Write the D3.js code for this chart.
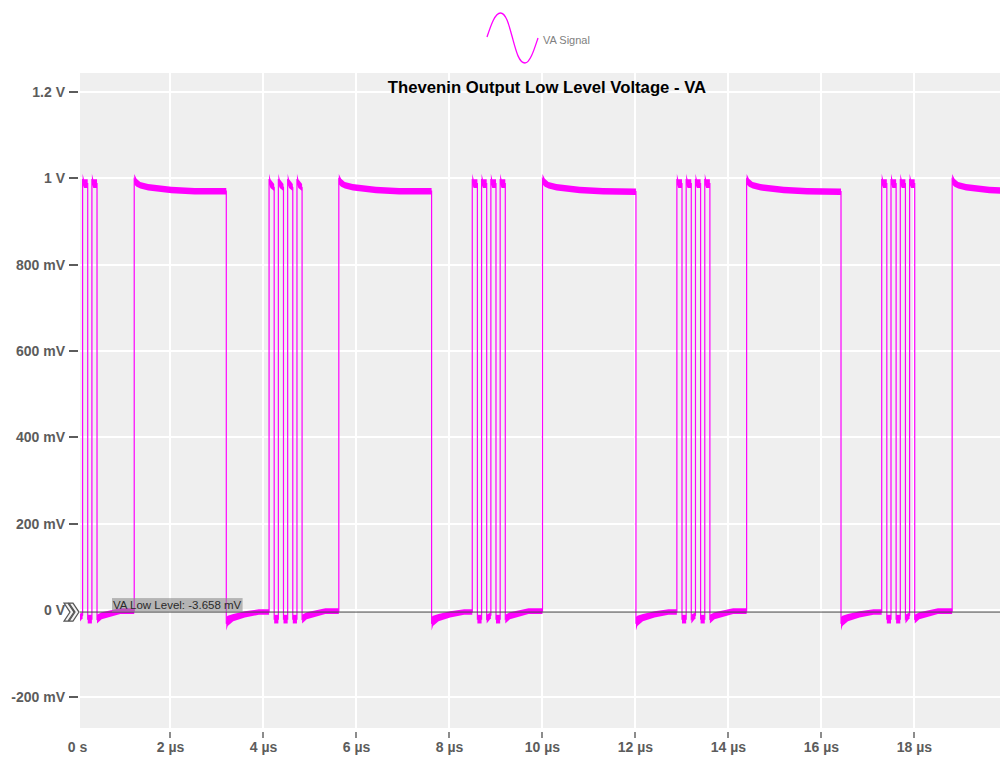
<!DOCTYPE html>
<html>
<head>
<meta charset="utf-8">
<script src="https://cdn.jsdelivr.net/npm/d3@7"></script>
<style>
  body { margin: 0; background: #fff; }
  svg { display: block; font-family: "Liberation Sans", Arial, sans-serif; }
</style>
</head>
<body>
<svg id="chart" width="1000" height="757"></svg>
<script>
// ---- axis ticks ----
const timeTicks = [0, 2, 4, 6, 8, 10, 12, 14, 16, 18];               // µs
const timeTickLabels = ["0 s", "2 µs", "4 µs", "6 µs", "8 µs", "10 µs", "12 µs", "14 µs", "16 µs", "18 µs"];
const voltTicks = [-0.2, 0, 0.2, 0.4, 0.6, 0.8, 1.0, 1.2];            // V
const voltTickLabels = ["-200 mV", "0 V", "200 mV", "400 mV", "600 mV", "800 mV", "1 V", "1.2 V"];

// ---- VA signal edges (µs) ----
const plateauRise = [1.22, 5.62, 10.0, 14.39, 18.81];   // start of each long high level
const plateauFall = [3.2, 7.615, 12.01, 16.42, 20.78];  // end of each long high level
const burstRise   = [-0.29, 4.12, 8.49, 12.89, 17.295]; // first edge of each 4-pulse burst
const pulseOffsets = [0, 0.2, 0.4, 0.6];                // pulse starts inside a burst
const pulseWidth = 0.11;

// ---- level envelopes: [µs after edge, lower V, upper V] ----
const plateauHighShape = [[0, 0.985, 1.009], [0.05, 0.980, 0.998], [0.13, 0.976, 0.991], [0.3, 0.971, 0.986],
                          [0.8, 0.965, 0.980], [1.3, 0.962, 0.977], [2.0, 0.961, 0.976]];
const pulseHighShape = [[0, 0.985, 1.010], [0.03, 0.977, 0.997], [0.11, 0.970, 0.986]];
const lowAfterPlateauShape = [[0, -0.046, -0.015], [0.03, -0.036, -0.012], [0.15, -0.025, -0.008],
                              [0.4, -0.016, -0.002], [0.7, -0.010, 0.003], [1.0, -0.007, 0.005]];
const lowInBurstShape = [[0, -0.030, -0.010], [0.09, -0.018, -0.004]];
const lowAfterBurstShape = [[0, -0.030, -0.010], [0.1, -0.020, -0.004], [0.5, -0.008, 0.005], [0.9, -0.005, 0.007]];

const lowLevelCursor = -0.003658; // V
const lowLevelText = "VA Low Level: -3.658 mV";
const traceColor = "#ff00ff";

// ---- layout ----
const plot = { left: 80, right: 1000, top: 73, bottom: 728 };
const x = d3.scaleLinear().domain([0.054, 19.839]).range([plot.left, plot.right]);
const y = d3.scaleLinear().domain([-0.2717, 1.2428]).range([plot.bottom, plot.top]);

const svg = d3.select("#chart");

svg.append("defs").append("clipPath").attr("id", "plotClip")
  .append("rect")
  .attr("x", plot.left).attr("y", plot.top)
  .attr("width", plot.right - plot.left).attr("height", plot.bottom - plot.top);

// background
svg.append("rect")
  .attr("x", plot.left).attr("y", plot.top)
  .attr("width", plot.right - plot.left).attr("height", plot.bottom - plot.top)
  .attr("fill", "#efefef");

// grid
const grid = svg.append("g").attr("stroke", "#ffffff").attr("stroke-width", 2);
grid.selectAll("line.v").data(timeTicks.filter(t => x(t) > plot.left)).join("line")
  .attr("class", "v")
  .attr("x1", d => Math.round(x(d))).attr("x2", d => Math.round(x(d)))
  .attr("y1", plot.top).attr("y2", plot.bottom);
grid.selectAll("line.h").data(voltTicks).join("line")
  .attr("class", "h")
  .attr("y1", d => Math.round(y(d))).attr("y2", d => Math.round(y(d)))
  .attr("x1", plot.left).attr("x2", plot.right);

// y axis labels + dashes
const yAxis = svg.append("g");
yAxis.selectAll("text").data(voltTicks).join("text")
  .attr("x", 65).attr("y", d => y(d) + 5)
  .attr("text-anchor", "end")
  .attr("font-size", 14).attr("font-weight", "bold").attr("fill", "#5c5c5c")
  .text((d, i) => voltTickLabels[i]);
yAxis.selectAll("line").data(voltTicks).join("line")
  .attr("x1", 69).attr("x2", 78)
  .attr("y1", d => Math.round(y(d))).attr("y2", d => Math.round(y(d)))
  .attr("stroke", "#5c5c5c").attr("stroke-width", 2);

// x axis labels + ticks
const xAxis = svg.append("g");
xAxis.selectAll("text").data(timeTicks).join("text")
  .attr("x", d => x(d)).attr("y", 752)
  .attr("text-anchor", "middle")
  .attr("font-size", 14).attr("font-weight", "bold").attr("fill", "#5c5c5c")
  .text((d, i) => timeTickLabels[i]);
xAxis.selectAll("line").data(timeTicks.filter(t => x(t) > plot.left)).join("line")
  .attr("x1", d => Math.round(x(d))).attr("x2", d => Math.round(x(d)))
  .attr("y1", 732).attr("y2", 738)
  .attr("stroke", "#666").attr("stroke-width", 1.5);

// ---- build trace segments ----
const segments = [];
function addSegment(t0, t1, shape) {
  const dur = t1 - t0;
  const pts = shape.filter(p => p[0] <= dur).map(p => ({ t: t0 + p[0], lo: p[1], hi: p[2] }));
  const last = pts[pts.length - 1];
  if (last.t < t1) pts.push({ t: t1, lo: last.lo, hi: last.hi });
  segments.push(pts);
}
for (let i = 0; i < plateauRise.length; i++) {
  pulseOffsets.forEach((off, k) => {
    const r = burstRise[i] + off;
    const f = r + pulseWidth;
    addSegment(r, f, pulseHighShape);
    if (k < pulseOffsets.length - 1) addSegment(f, burstRise[i] + pulseOffsets[k + 1], lowInBurstShape);
    else addSegment(f, plateauRise[i], lowAfterBurstShape);
  });
  addSegment(plateauRise[i], plateauFall[i], plateauHighShape);
  const nextBurst = i + 1 < burstRise.length ? burstRise[i + 1] : plateauFall[i] + 1;
  addSegment(plateauFall[i], nextBurst, lowAfterPlateauShape);
}

const trace = svg.append("g").attr("clip-path", "url(#plotClip)");
const band = d3.area().x(d => x(d.t)).y0(d => y(d.lo)).y1(d => y(d.hi));
trace.selectAll("path.band").data(segments).join("path")
  .attr("class", "band")
  .attr("d", band)
  .attr("fill", traceColor);
const centre = d3.line().x(d => x(d.t)).y(d => y((d.lo + d.hi) / 2));
trace.append("path")
  .attr("d", centre(segments.flat()))
  .attr("fill", "none")
  .attr("stroke", traceColor)
  .attr("stroke-width", 1.2);

// ---- low level cursor ----
const cy = y(lowLevelCursor);
svg.append("line")
  .attr("x1", plot.left).attr("x2", plot.right)
  .attr("y1", cy).attr("y2", cy)
  .attr("stroke", "#4a4a4a").attr("stroke-width", 1);

const label = svg.append("g");
const labelText = label.append("text")
  .attr("x", 113).attr("y", cy - 3)
  .attr("font-size", 11.5).attr("fill", "#2a2a2a")
  .text(lowLevelText);
const bb = labelText.node().getBBox();
label.insert("rect", "text")
  .attr("x", bb.x - 1).attr("y", cy - 14)
  .attr("width", bb.width + 2).attr("height", 14)
  .attr("fill", "#8c8c8c").attr("fill-opacity", 0.6);

// cursor handle (double chevron)
const chev = svg.append("g").attr("fill", "#f4f4f4").attr("stroke", "#555").attr("stroke-width", 1.2)
  .attr("stroke-linejoin", "miter");
[64, 69].forEach(x0 => {
  chev.append("path")
    .attr("d", `M${x0},${cy - 9} L${x0 + 4},${cy - 9} L${x0 + 10},${cy} L${x0 + 4},${cy + 9} L${x0},${cy + 9} L${x0 + 6},${cy} Z`);
});

// ---- title ----
svg.append("text")
  .attr("x", 547).attr("y", 93)
  .attr("text-anchor", "middle")
  .attr("font-size", 16.7).attr("font-weight", "bold").attr("fill", "#000")
  .text("Thevenin Output Low Level Voltage - VA");

// ---- legend ----
svg.append("path")
  .attr("d", "M487,37 C491,25 495,13 500.5,13 C506,13 509,25 512.5,38 C516,51 519,63 525,63 C530,63 534,50 538,38")
  .attr("fill", "none").attr("stroke", traceColor).attr("stroke-width", 1.3);
svg.append("text")
  .attr("x", 543).attr("y", 44)
  .attr("font-size", 11).attr("fill", "#808080")
  .text("VA Signal");
</script>
</body>
</html>
